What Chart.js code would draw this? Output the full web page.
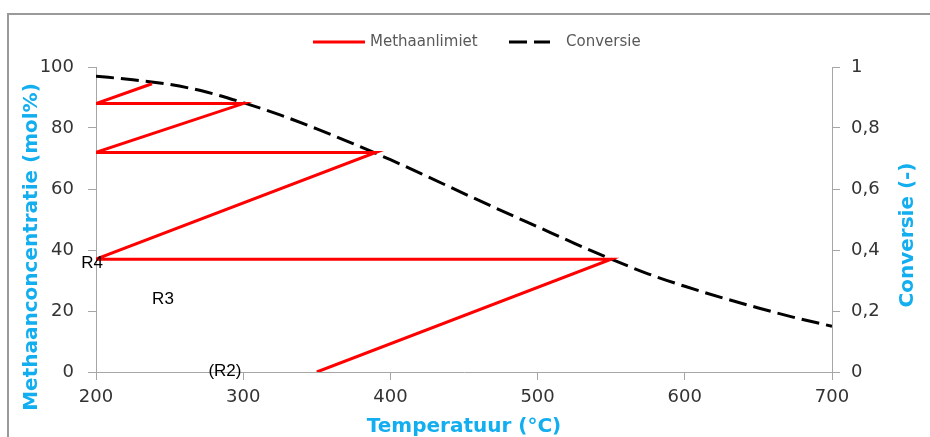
<!DOCTYPE html>
<html>
<head>
<meta charset="utf-8">
<script src="https://cdn.jsdelivr.net/npm/chart.js@4.4.1/dist/chart.umd.min.js"></script>
<style>
  html, body { margin: 0; padding: 0; background: #fff; }
  #wrap { position: relative; width: 930px; height: 437px; overflow: hidden; }
  #frame { position: absolute; left: 7px; top: 13px; width: 1000px; height: 1000px; border: 2px solid #9a9a9a; box-sizing: border-box; }
  canvas { position: absolute; left: 0; top: 0; }
</style>
</head>
<body>
<div id="wrap">
  <div id="frame"></div>
  <canvas id="chart" width="930" height="437"></canvas>
</div>
<script>
// Methaanlimiet (zigzag tussen reactoren)
const limietTemp = [350, 550, 200, 390, 200, 300, 200, 238];
const limietMethaan = [0, 37, 37, 72, 72, 88, 88, 94.5];

// Evenwichtsconversie
const convTemp = [200, 225, 250, 275, 300, 325, 350, 375, 400, 425, 450, 475, 500, 525, 550, 575, 600, 625, 650, 675, 700];
const conversie = [0.97, 0.958, 0.943, 0.918, 0.883, 0.843, 0.797, 0.748, 0.696, 0.641, 0.585, 0.53, 0.476, 0.422, 0.37, 0.322, 0.281, 0.244, 0.21, 0.178, 0.15];

// Labels in de grafiek
const reactorLabels = ['R4', 'R3', '(R2)'];
const reactorTemp = [197.3, 245.5, 287.6];
const reactorMethaan = [35.7, 23.9, 0.3];

const BLUE = '#12aeef';
const AXIS = '#a6a6a6';
const TICK = '#333333';
const FONT = 'DejaVu Sans';

const toPoints = (xs, ys) => xs.map((x, i) => ({ x: x, y: ys[i] }));

// titels, legenda en labels
const extras = {
  id: 'extras',
  afterDraw(chart) {
    const ctx = chart.ctx;
    const { x, y } = chart.scales;
    ctx.save();

    // legenda
    const ds = chart.data.datasets;
    const legend = [
      { ds: ds[0], x0: 313, x1: 365, tx: 370 },
      { ds: ds[1], x0: 509, x1: 550, tx: 566 }
    ];
    legend.forEach(l => {
      ctx.beginPath();
      ctx.strokeStyle = l.ds.borderColor;
      ctx.lineWidth = l.ds.borderWidth;
      ctx.setLineDash(l.ds.borderDash || []);
      ctx.moveTo(l.x0, 42);
      ctx.lineTo(l.x1, 42);
      ctx.stroke();
      ctx.setLineDash([]);
      ctx.fillStyle = '#595959';
      ctx.font = '15px "' + FONT + '"';
      ctx.textAlign = 'left';
      ctx.textBaseline = 'middle';
      ctx.fillText(l.ds.label, l.tx, 42);
    });

    // reactor labels
    ctx.fillStyle = '#000';
    ctx.font = '17px "Liberation Sans"';
    ctx.textAlign = 'center';
    ctx.textBaseline = 'middle';
    reactorLabels.forEach((t, i) => {
      ctx.fillText(t, x.getPixelForValue(reactorTemp[i]), y.getPixelForValue(reactorMethaan[i]));
    });

    // y-as titels
    ctx.fillStyle = BLUE;
    ctx.font = 'bold 20px "' + FONT + '"';
    ctx.translate(32, 247);
    ctx.rotate(-Math.PI / 2);
    ctx.fillText('Methaanconcentratie (mol%)', 0, 0);
    ctx.setTransform(1, 0, 0, 1, 0, 0);
    ctx.translate(908, 235);
    ctx.rotate(-Math.PI / 2);
    ctx.fillText('Conversie (-)', 0, 0);
    ctx.restore();
  }
};

const tickFont = { family: FONT, size: 18 };

new Chart(document.getElementById('chart'), {
  type: 'scatter',
  data: {
    datasets: [
      {
        label: 'Methaanlimiet',
        data: toPoints(limietTemp, limietMethaan),
        showLine: true,
        borderColor: '#ff0000',
        borderWidth: 3,
        pointRadius: 0,
        tension: 0,
        yAxisID: 'y'
      },
      {
        label: 'Conversie',
        data: toPoints(convTemp, conversie),
        showLine: true,
        borderColor: '#000000',
        borderWidth: 3,
        borderDash: [18, 7],
        pointRadius: 0,
        cubicInterpolationMode: 'monotone',
        yAxisID: 'y2'
      }
    ]
  },
  options: {
    responsive: false,
    animation: false,
    layout: { padding: { top: 67, left: 0, right: 0, bottom: 0 } },
    plugins: { legend: { display: false }, tooltip: { enabled: false } },
    scales: {
      x: {
        type: 'linear',
        min: 200,
        max: 700,
        ticks: { stepSize: 100, color: TICK, font: tickFont, padding: 7 },
        grid: { drawOnChartArea: false, tickLength: 8, color: AXIS },
        border: { color: AXIS },
        title: {
          display: true,
          text: 'Temperatuur (°C)',
          color: BLUE,
          font: { family: FONT, size: 20, weight: 'bold', lineHeight: 1 },
          padding: 0
        },
        afterFit: s => { s.height = 65; }
      },
      y: {
        position: 'left',
        min: 0,
        max: 100,
        ticks: { stepSize: 20, color: TICK, font: tickFont, padding: 14 },
        grid: { drawOnChartArea: false, tickLength: 8, color: AXIS },
        border: { color: AXIS },
        afterFit: s => { s.width = 96; }
      },
      y2: {
        position: 'right',
        min: 0,
        max: 1,
        ticks: {
          stepSize: 0.2,
          color: TICK,
          font: tickFont,
          padding: 11,
          callback: v => String(Math.round(v * 10) / 10).replace('.', ',')
        },
        grid: { drawOnChartArea: false, tickLength: 8, color: AXIS },
        border: { color: AXIS },
        afterFit: s => { s.width = 98; }
      }
    }
  },
  plugins: [extras]
});
</script>
</body>
</html>
